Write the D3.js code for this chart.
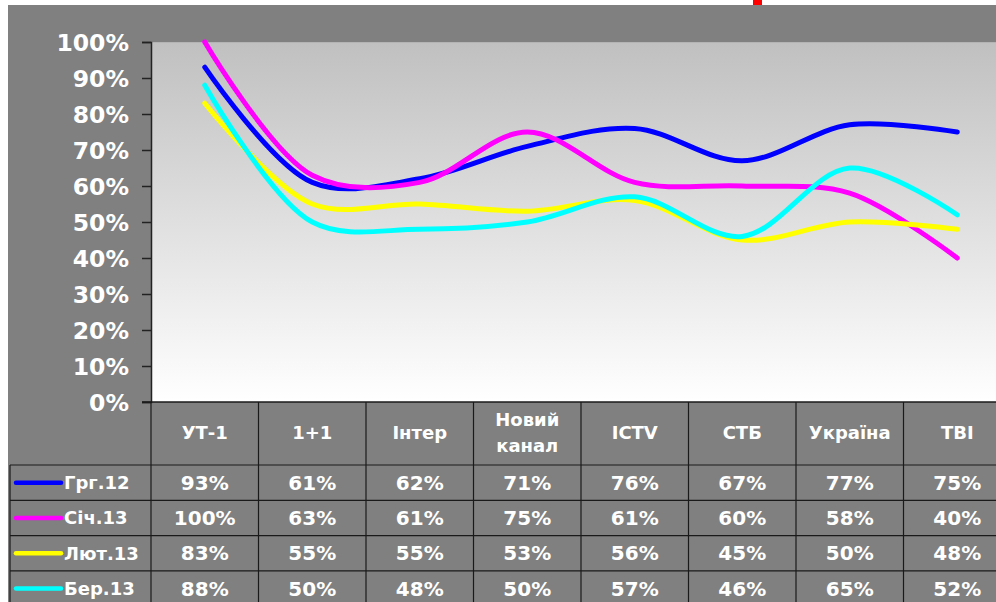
<!DOCTYPE html>
<html>
<head>
<meta charset="utf-8">
<script src="https://cdn.jsdelivr.net/npm/d3@7"></script>
<style>
  body { margin: 0; background: #fff; }
  svg { display: block; }
  text { font-family: "DejaVu Sans", Verdana, sans-serif; font-weight: bold; fill: #fff; }
</style>
</head>
<body>
<svg id="chart" width="996" height="602"></svg>
<script>
// channels (x categories)
var channels = ["УТ-1", "1+1", "Інтер", "Новий канал", "ICTV", "СТБ", "Україна", "ТВІ"];
var seriesNames = ["Грг.12", "Січ.13", "Лют.13", "Бер.13"];
var seriesColors = ["#0000ff", "#ff00ff", "#ffff00", "#00ffff"];

// values in percent
var grg12 = [93, 61, 62, 71, 76, 67, 77, 75];
var sich13 = [100, 63, 61, 75, 61, 60, 58, 40];
var lyut13 = [83, 55, 55, 53, 56, 45, 50, 48];
var ber13 = [88, 50, 48, 50, 57, 46, 65, 52];

var yTicks = [0, 10, 20, 30, 40, 50, 60, 70, 80, 90, 100];

var allSeries = [grg12, sich13, lyut13, ber13];

(function () {
var svg = d3.select("#chart");

var plotLeft = 151, plotTop = 42, plotBottom = 402;
var colW = 107.5;
var plotRight = plotLeft + channels.length * colW;

// grey backdrop
svg.append("rect")
    .attr("x", 8).attr("y", 5)
    .attr("width", 996).attr("height", 602)
    .attr("fill", "#808080");

// red fragment at top (cut-off title)
svg.append("rect")
    .attr("x", 753).attr("y", 0)
    .attr("width", 9).attr("height", 5)
    .attr("fill", "#ff0000");

var defs = svg.append("defs");
var grad = defs.append("linearGradient")
    .attr("id", "plotGrad")
    .attr("x1", 0).attr("y1", 0).attr("x2", 0).attr("y2", 1);
grad.append("stop").attr("offset", "0%").attr("stop-color", "#c0c0c0");
grad.append("stop").attr("offset", "100%").attr("stop-color", "#ffffff");

var x = d3.scaleBand()
    .domain(channels)
    .range([plotLeft, plotRight]);

var y = d3.scaleLinear()
    .domain([0, 100])
    .range([plotBottom, plotTop]);

// plot area
svg.append("rect")
    .attr("x", plotLeft).attr("y", plotTop)
    .attr("width", plotRight - plotLeft).attr("height", plotBottom - plotTop)
    .attr("fill", "url(#plotGrad)");
svg.append("line")
    .attr("x1", plotLeft).attr("x2", plotRight)
    .attr("y1", plotTop + 0.5).attr("y2", plotTop + 0.5)
    .attr("stroke", "#b4b4b4");

// y axis
var yAxis = d3.axisLeft(y)
    .tickValues(yTicks)
    .tickSize(9)
    .tickFormat(function (d) { return d + "%"; });

var gy = svg.append("g")
    .attr("transform", "translate(" + plotLeft + ",0)")
    .call(yAxis);
gy.select(".domain").attr("stroke", "#222").attr("stroke-width", 1.5);
gy.selectAll(".tick line").attr("stroke", "#222").attr("stroke-width", 1.5);
gy.selectAll(".tick text")
    .attr("x", -22)
    .attr("dy", "0.36em")
    .style("font-size", "23.5px")
    .style("font-family", "'DejaVu Sans', Verdana, sans-serif")
    .style("font-weight", "bold")
    .attr("fill", "#fff");

// lines
var line = d3.line()
    .x(function (d, i) { return x(channels[i]) + x.bandwidth() / 2; })
    .y(function (d) { return y(d); })
    .curve(d3.curveCatmullRom.alpha(0.5));

svg.append("g")
    .selectAll("path")
    .data(allSeries)
    .enter().append("path")
    .attr("d", line)
    .attr("fill", "none")
    .attr("stroke", function (d, i) { return seriesColors[i]; })
    .attr("stroke-width", 5)
    .attr("stroke-linecap", "round")
    .attr("stroke-linejoin", "round");

// data table
var headerBottom = 465;
var rowH = 35.3;
var tableLeft = 10;
var gridColor = "#1a1a1a";
var tbl = svg.append("g");

// verticals
channels.forEach(function (c) {
    tbl.append("line")
        .attr("x1", x(c)).attr("x2", x(c))
        .attr("y1", plotBottom).attr("y2", 602)
        .attr("stroke", gridColor).attr("stroke-width", 1.2);
});
tbl.append("line")
    .attr("x1", tableLeft).attr("x2", tableLeft)
    .attr("y1", headerBottom).attr("y2", 602)
    .attr("stroke", gridColor).attr("stroke-width", 1.2);

// horizontals
tbl.append("line")
    .attr("x1", 142).attr("x2", plotRight)
    .attr("y1", plotBottom).attr("y2", plotBottom)
    .attr("stroke", gridColor).attr("stroke-width", 1.5);
d3.range(seriesNames.length + 1).forEach(function (r) {
    var yy = headerBottom + r * rowH;
    tbl.append("line")
        .attr("x1", tableLeft).attr("x2", plotRight)
        .attr("y1", yy).attr("y2", yy)
        .attr("stroke", gridColor).attr("stroke-width", 1.2);
});

// header labels
channels.forEach(function (c) {
    var cx = x(c) + x.bandwidth() / 2;
    var parts = c === "Новий канал" ? ["Новий", "канал"] : [c];
    var t = tbl.append("text")
        .attr("x", cx)
        .attr("text-anchor", "middle")
        .style("font-size", "18px");
    parts.forEach(function (p, k) {
        t.append("tspan")
            .attr("x", cx)
            .attr("y", 433 + (k - (parts.length - 1) / 2) * 26)
            .attr("dy", "0.36em")
            .text(p);
    });
});

// rows
seriesNames.forEach(function (name, r) {
    var cy = headerBottom + r * rowH + rowH / 2;
    tbl.append("line")
        .attr("x1", 16).attr("x2", 61)
        .attr("y1", cy).attr("y2", cy)
        .attr("stroke", seriesColors[r])
        .attr("stroke-width", 4.5)
        .attr("stroke-linecap", "round");
    tbl.append("text")
        .attr("x", 64).attr("y", cy)
        .attr("dy", "0.36em")
        .style("font-size", "18px")
        .text(name);
    allSeries[r].forEach(function (v, i) {
        tbl.append("text")
            .attr("x", x(channels[i]) + x.bandwidth() / 2)
            .attr("y", cy)
            .attr("dy", "0.36em")
            .attr("text-anchor", "middle")
            .style("font-size", "20px")
            .text(v + "%");
    });
});
})();
</script>
</body>
</html>
